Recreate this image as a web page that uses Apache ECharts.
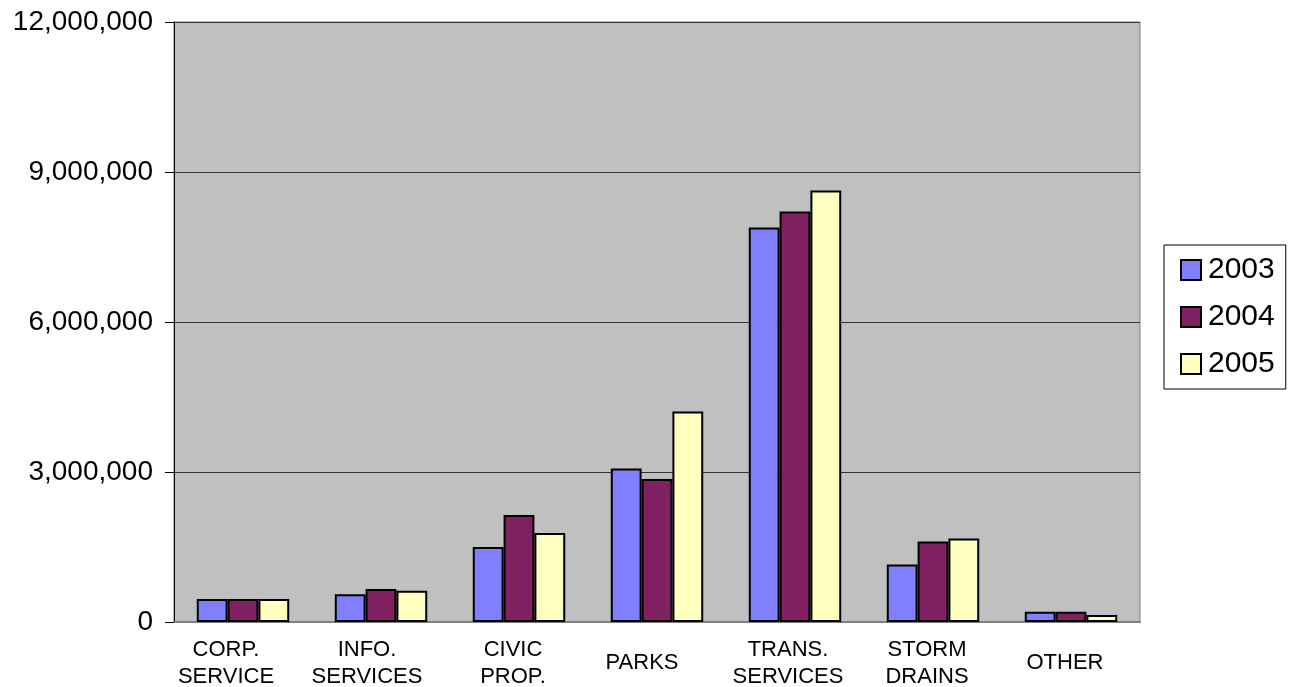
<!DOCTYPE html>
<html>
<head>
<meta charset="utf-8">
<script src="https://cdn.jsdelivr.net/npm/echarts@6/dist/echarts.min.js"></script>
<style>
  html, body { margin: 0; padding: 0; background: #fff; }
  #chart { width: 1292px; height: 687px; }
</style>
</head>
<body>
<div id="chart"></div>
<script>
// Departments (x-axis categories)
const categories = ['CORP.\nSERVICE', 'INFO.\nSERVICES', 'CIVIC\nPROP.', 'PARKS', 'TRANS.\nSERVICES', 'STORM\nDRAINS', 'OTHER'];

// Yearly amounts per department
const years = ['2003', '2004', '2005'];
const values2003 = [460000, 555000, 1500000, 3070000, 7890000, 1150000, 206000];
const values2004 = [460000, 660000, 2140000, 2860000, 8210000, 1610000, 206000];
const values2005 = [460000, 625000, 1780000, 4210000, 8630000, 1670000, 140000];

// Value axis ticks
const yMin = 0;
const yMax = 12000000;
const yStep = 3000000;

const colors = ['#8080FF', '#802060', '#FFFFC0'];
const seriesValues = [values2003, values2004, values2005];

// Category labels sit a little left of their bar groups (px)
const labelShift = [17, 14, 6, 15, 7, 6, 6];

const chart = echarts.init(document.getElementById('chart'), null, { renderer: 'canvas' });

const font = 'Arial, "Liberation Sans", sans-serif';

const catLabelStyle = {
  fontSize: 22,
  lineHeight: 27,
  color: '#000',
  fontFamily: font,
  verticalAlign: 'middle'
};

chart.setOption({
  animation: false,
  textStyle: { fontFamily: font },
  grid: {
    left: 174, right: 152, top: 22, bottom: 65,
    outerBoundsMode: 'none',
    containLabel: false,
    show: true,
    backgroundColor: '#C0C0C0',
    borderColor: '#808080',
    borderWidth: 1
  },
  legend: {
    orient: 'vertical',
    left: 1164,
    top: 245,
    data: years,
    backgroundColor: '#fff',
    borderColor: '#000',
    borderWidth: 1,
    borderRadius: 0,
    padding: [10, 11, 10, 16],
    itemGap: 17,
    itemWidth: 20,
    itemHeight: 20,
    icon: 'rect',
    textStyle: { fontSize: 30, color: '#000', fontFamily: font, lineHeight: 30, padding: [0, 0, 0, 2] }
  },
  xAxis: {
    type: 'category',
    data: categories.map((c, i) => ({
      value: c,
      textStyle: Object.assign({}, catLabelStyle, { padding: [0, labelShift[i] * 2, 0, 0] })
    })),
    axisLine: { show: true, lineStyle: { color: '#808080', width: 2 } },
    axisTick: { show: false },
    axisLabel: Object.assign({ interval: 0, margin: 41 }, catLabelStyle),
    splitLine: { show: false }
  },
  yAxis: {
    type: 'value',
    min: yMin,
    max: yMax,
    interval: yStep,
    axisLine: { show: true, lineStyle: { color: '#000', width: 1 } },
    axisTick: { show: true, inside: false, length: 9, lineStyle: { color: '#000' } },
    axisLabel: {
      fontSize: 28,
      color: '#000',
      fontFamily: font,
      margin: 21,
      formatter: v => v.toLocaleString('en-US')
    },
    splitLine: { show: true, lineStyle: { color: '#333', width: 1 } }
  },
  series: years.map((y, i) => ({
    name: y,
    type: 'bar',
    data: seriesValues[i],
    barGap: '0%',
    barCategoryGap: '33%',
    itemStyle: { color: colors[i], borderColor: '#000', borderWidth: 2 }
  }))
});
</script>
</body>
</html>
